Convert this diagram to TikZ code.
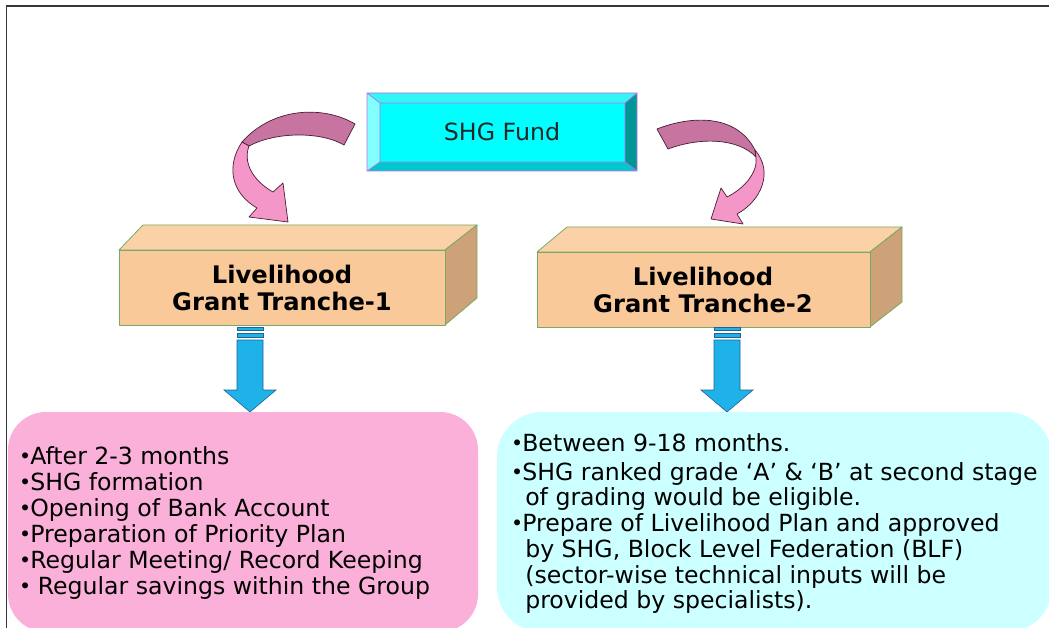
\documentclass[tikz,border=0pt]{standalone}
\usepackage{fontspec}
\setmainfont{DejaVu Sans}
\definecolor{framegray}{RGB}{55,55,55}
\definecolor{fundface}{RGB}{0,255,255}
\definecolor{fundtop}{RGB}{50,245,245}
\definecolor{fundleft}{RGB}{130,255,255}
\definecolor{fundright}{RGB}{0,150,150}
\definecolor{fundbottom}{RGB}{0,200,205}
\definecolor{fundline}{RGB}{190,110,230}
\definecolor{boxfront}{RGB}{250,201,154}
\definecolor{boxtop}{RGB}{251,210,168}
\definecolor{boxside}{RGB}{205,162,120}
\definecolor{boxline}{RGB}{120,170,100}
\definecolor{ribbondark}{RGB}{200,116,160}
\definecolor{ribbonlight}{RGB}{245,150,200}
\definecolor{ribbonline}{RGB}{70,30,50}
\definecolor{dropfill}{RGB}{30,178,232}
\definecolor{dropline}{RGB}{30,100,150}
\definecolor{pinkpanel}{RGB}{250,176,216}
\definecolor{cyanpanel}{RGB}{204,255,255}
% list bullet followed by the item text
\newcommand{\itemdot}{{\fontsize{20.5}{20}\selectfont\raisebox{0.4pt}{•}}\kern-1pt}
\newcommand{\itemgap}{\hphantom{\itemdot}\kern3pt}
\begin{document}
\begin{tikzpicture}[x=1pt,y=-1pt,
  fundtxt/.style={font=\fontsize{23.7}{27}\selectfont, text=black!85, inner sep=0pt},
  boxtxt/.style={font=\fontsize{24.2}{27}\selectfont\bfseries, align=center, inner sep=0pt},
  listline/.style={font=\fontsize{23.6}{26}\selectfont, anchor=base west, inner sep=0pt},
  cuboid/.style={draw=boxline, line width=0.8pt, line join=round},
  ribbon/.style={draw=ribbonline, line width=0.7pt, line join=round},
  dropstyle/.style={fill=dropfill, draw=dropline, line width=0.6pt},
  droparrow/.pic={
    \path[dropstyle] (-13,327) rectangle (13,330);
    \path[dropstyle] (-13,333) rectangle (13,337);
    \path[dropstyle] (-13,340) -- (13,340) -- (13,390) -- (26,390) -- (0,412)
      -- (-26,390) -- (-13,390) -- cycle;
  }]
\useasboundingbox (0,0) rectangle (1049,628);
\fill[white] (0,0) rectangle (1049,628);

% bevelled "SHG Fund" button
\fill[fundtop] (367,93) -- (637,93) -- (625,103) -- (380,103) -- cycle;
\fill[fundleft] (367,93) -- (380,103) -- (380,162) -- (367,171) -- cycle;
\fill[fundright] (637,93) -- (637,171) -- (625,162) -- (625,103) -- cycle;
\fill[fundbottom] (367,171) -- (380,162) -- (625,162) -- (637,171) -- cycle;
\fill[fundface] (380,103) rectangle (625,162);
\draw[fundline, line width=0.7pt] (367,93) rectangle (637,171)
  (380,103) rectangle (625,162)
  (367,93) -- (380,103) (637,93) -- (625,103)
  (367,171) -- (380,162) (637,171) -- (625,162);
\node[fundtxt] (fund) at (502,132) {SHG Fund};

% curved ribbon arrows leaving the fund
\path[ribbon, fill=ribbondark] (355,124) .. controls (325,106) and (274,106) .. (242,142)
  -- (249,146) .. controls (275,132) and (320,131) .. (344,145) -- cycle;
\path[ribbon, fill=ribbonlight] (242,142) .. controls (226,166) and (231,193) .. (257,208)
  -- (249,217) -- (288,222) -- (283,183) -- (273,192)
  .. controls (252,180) and (243,162) .. (249,146) -- cycle;

\path[ribbon, fill=ribbondark] (657,129) .. controls (690,116) and (736,113) .. (755,150)
  -- (756,157) .. controls (738,138) and (700,137) .. (668,149) -- cycle;
\path[ribbon, fill=ribbonlight] (755,150) .. controls (774,172) and (761,201) .. (737,214)
  -- (743,224) -- (711,219) -- (721,188) -- (727,197)
  .. controls (745,188) and (758,172) .. (756,157) -- cycle;

% tranche blocks
\path[cuboid, fill=boxtop] (119,250) -- (143,225) -- (477,225) -- (445,250) -- cycle;
\path[cuboid, fill=boxside] (445,250) -- (477,225) -- (477,298) -- (445,325) -- cycle;
\path[cuboid, fill=boxfront] (119,250) rectangle (445,325);
\node[boxtxt] (t1) at (282,288) {Livelihood\\Grant Tranche-1};

\path[cuboid, fill=boxtop] (537,252) -- (567,227) -- (902,227) -- (870,252) -- cycle;
\path[cuboid, fill=boxside] (870,252) -- (902,227) -- (902,302) -- (870,327) -- cycle;
\path[cuboid, fill=boxfront] (537,252) rectangle (870,327);
\node[boxtxt] (t2) at (703,290) {Livelihood\\Grant Tranche-2};

% block arrows down to the detail panels
\pic at (250,0) {droparrow};
\pic at (727,0) {droparrow};

% detail panels
\fill[pinkpanel, rounded corners=38pt] (8,412) rectangle (478,632);
\fill[cyanpanel, rounded corners=45pt] (497,412) rectangle (1052,632);

\node[listline] (a1) at (19,464) {\itemdot After 2-3 months};
\node[listline] (a2) at (19,490) {\itemdot SHG formation};
\node[listline] (a3) at (19,516) {\itemdot Opening of Bank Account};
\node[listline] (a4) at (19,542) {\itemdot Preparation of Priority Plan};
\node[listline] (a5) at (19,568) {\itemdot Regular Meeting/ Record Keeping};
\node[listline] (a6) at (19,594) {\itemdot\ Regular savings within the Group};

\node[listline] (b1) at (511,451) {\itemdot Between 9-18 months.};
\node[listline] (b2) at (511,480) {\itemdot SHG ranked grade ‘A’ \& ‘B’ at second stage};
\node[listline] (b3) at (511,505) {\itemgap of grading would be eligible.};
\node[listline] (b4) at (511,531) {\itemdot Prepare of Livelihood Plan and approved};
\node[listline] (b5) at (511,557) {\itemgap by SHG, Block Level Federation (BLF)};
\node[listline] (b6) at (511,583) {\itemgap (sector-wise technical inputs will be};
\node[listline] (b7) at (511,608) {\itemgap provided by specialists).};

% slide frame
\draw[framegray, line width=1.4pt] (6.5,628) -- (6.5,6) -- (1049,6);
\end{tikzpicture}
\end{document}
